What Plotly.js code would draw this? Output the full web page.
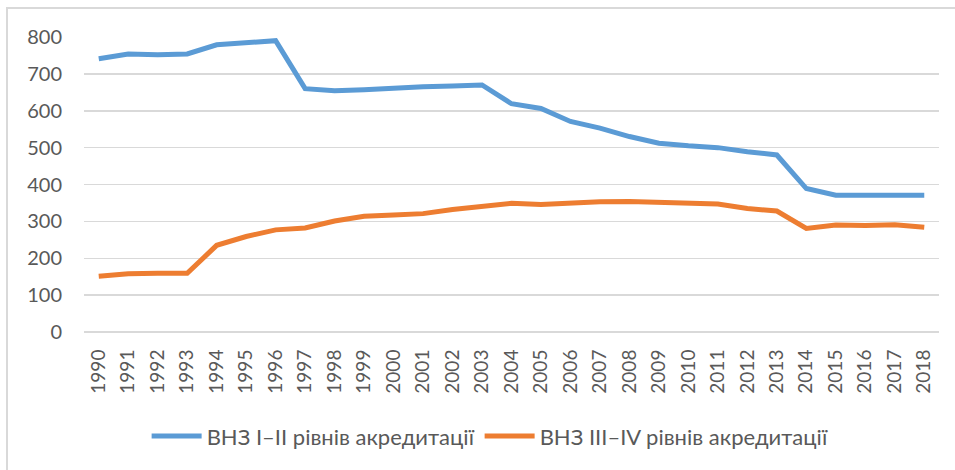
<!DOCTYPE html>
<html>
<head>
<meta charset="utf-8">
<script src="https://cdn.plot.ly/plotly-3.0.1.min.js"></script>
<style>
  html, body { margin: 0; padding: 0; background: #fff; }
  #chart { position: absolute; left: 0; top: 0; width: 955px; height: 470px; }
  #frame { position: absolute; left: 6px; top: 7px; width: 980px; height: 500px;
           border-left: 2px solid #d9d9d9; border-top: 2px solid #d9d9d9; pointer-events: none; }
</style>
</head>
<body>
<div id="chart"></div>
<div id="frame"></div>
<script>
const years = ["1990","1991","1992","1993","1994","1995","1996","1997","1998","1999",
               "2000","2001","2002","2003","2004","2005","2006","2007","2008","2009",
               "2010","2011","2012","2013","2014","2015","2016","2017","2018"];
const seriesNames = ["ВНЗ I–II рівнів акредитації", "ВНЗ III–IV рівнів акредитації"];
const levelI_II = [741, 754, 752, 754, 779, 783, 790, 660, 654, 657,
                   662, 665, 667, 670, 619, 606, 571, 553, 530, 512,
                   505, 500, 489, 480, 389, 371, 371, 372, 371];
const levelIII_IV = [151, 158, 159, 159, 235, 259, 277, 282, 301, 314,
                     317, 321, 332, 341, 349, 346, 350, 353, 354, 352,
                     350, 347, 335, 328, 281, 290, 289, 291, 284];
const yTicks = [0, 100, 200, 300, 400, 500, 600, 700, 800];

const font = "Lato, 'Noto Sans', sans-serif";
const traces = [
  { x: years, y: levelI_II, name: seriesNames[0], type: "scatter", mode: "lines",
    line: { color: "#5B9BD5", width: 5 } },
  { x: years, y: levelIII_IV, name: seriesNames[1], type: "scatter", mode: "lines",
    line: { color: "#ED7D31", width: 5 } }
];
const layout = {
  width: 955, height: 470,
  margin: { l: 84, r: 16, t: 37, b: 138 },
  paper_bgcolor: "rgba(0,0,0,0)", plot_bgcolor: "#fff",
  font: { family: font, size: 20, color: "#595959" },
  xaxis: {
    type: "category", range: [-0.5, 28.5], tickangle: -90,
    showgrid: false, zeroline: false, showline: false,
    ticks: "outside", ticklen: 9, tickcolor: "rgba(0,0,0,0)",
    tickfont: { family: font, size: 19, color: "#595959" }
  },
  yaxis: {
    range: [0, 800], tickvals: yTicks, ticktext: yTicks.map(String),
    showgrid: true, gridcolor: "#d9d9d9", gridwidth: 1.5,
    zeroline: true, zerolinecolor: "#d9d9d9", zerolinewidth: 1.5,
    showline: false, ticks: "outside", ticklen: 17, tickcolor: "rgba(0,0,0,0)",
    tickfont: { family: font, size: 20, color: "#595959" }
  },
  showlegend: true,
  legend: {
    orientation: "h", x: 0.475, xanchor: "center", y: -0.353, yanchor: "middle",
    font: { family: font, size: 22, color: "#595959" },
    itemwidth: 50, bgcolor: "rgba(0,0,0,0)"
  }
};
Plotly.newPlot("chart", traces, layout, { displayModeBar: false, staticPlot: true });
</script>
</body>
</html>
